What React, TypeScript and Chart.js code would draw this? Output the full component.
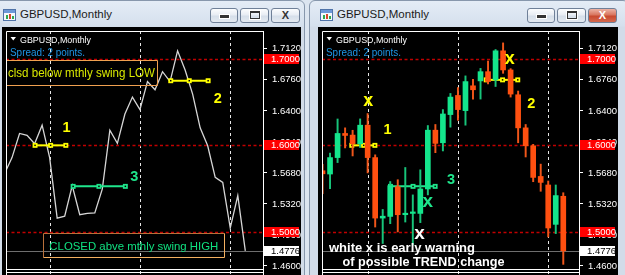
import React, { useEffect, useRef } from "react";
import { Chart, registerables } from "chart.js";

Chart.register(...registerables);

// ---------------- data: GBPUSD monthly bars ----------------
const MONTHS = [
  "2012.07", "2012.08", "2012.09", "2012.10", "2012.11", "2012.12",
  "2013.01", "2013.02", "2013.03", "2013.04", "2013.05", "2013.06",
  "2013.07", "2013.08", "2013.09", "2013.10", "2013.11", "2013.12",
  "2014.01", "2014.02", "2014.03", "2014.04", "2014.05", "2014.06",
  "2014.07", "2014.08", "2014.09", "2014.10", "2014.11", "2014.12",
  "2015.01", "2015.02", "2015.03",
];
const JAN_2015 = MONTHS.indexOf("2015.01");
const BAR_INDEX = MONTHS.map((_, i) => i - JAN_2015);

const OPEN = [
  1.5705, 1.5667, 1.5858, 1.6138, 1.6119, 1.6019,
  1.6234, 1.5858, 1.5156, 1.5175, 1.552, 1.5195,
  1.521, 1.521, 1.5494, 1.6176, 1.603, 1.6357,
  1.6579, 1.6403, 1.6691, 1.6748, 1.6855, 1.676,
  1.7097, 1.6875, 1.6587, 1.6203, 1.5995, 1.5639,
  1.554, 1.5083, 1.5409,
];
const HIGH = [
  1.578, 1.591, 1.6306, 1.6203, 1.6175, 1.6307,
  1.6369, 1.589, 1.5256, 1.558, 1.5601, 1.5743,
  1.5425, 1.5716, 1.623, 1.6242, 1.6415, 1.6602,
  1.6671, 1.6806, 1.6767, 1.6893, 1.6978, 1.7112,
  1.7189, 1.689, 1.663, 1.6242, 1.6012, 1.5782,
  1.5586, 1.554, 1.545,
];
const LOW = [
  1.544, 1.5497, 1.58, 1.597, 1.5877, 1.5975,
  1.568, 1.5052, 1.4861, 1.5091, 1.4995, 1.511,
  1.4842, 1.5103, 1.5425, 1.5915, 1.5935, 1.6211,
  1.6291, 1.6234, 1.6537, 1.6537, 1.6713, 1.6683,
  1.6836, 1.656, 1.603, 1.5865, 1.5578, 1.5467,
  1.4937, 1.4976, 1.4619,
];
const CLOSE = [
  1.567, 1.5858, 1.6138, 1.6115, 1.6019, 1.6234,
  1.5858, 1.5156, 1.5178, 1.5532, 1.5195, 1.521,
  1.5215, 1.5494, 1.6176, 1.6023, 1.6364, 1.656,
  1.6415, 1.674, 1.6645, 1.6855, 1.674, 1.7097,
  1.6875, 1.6595, 1.6203, 1.5995, 1.5628, 1.557,
  1.5041, 1.5417, 1.4776,
];

const PRICE_TICKS = [1.46, 1.496, 1.532, 1.568, 1.604, 1.64, 1.676, 1.712];
const RED_LEVELS = [1.7, 1.6, 1.5];
const BID = 1.4776;
const YEAR_SEPARATORS = [-24, -12, 0];
const Y_MIN = 1.4565;
const Y_MAX = 1.7327;
const LEFT_X_RANGE = [-29.8, 4.35];
const RIGHT_X_RANGE = [-30.07, 4.09];

// drawn objects (bar index, price)
const L_SWING1_X = [-25.94, -23.87, -21.85];
const L_SWING1_Y = 1.6;
const L_SWING2_X = [-7.91, -5.45, -2.94];
const L_SWING2_Y = 1.675;
const L_SWING3_X = [-20.88, -17.45, -13.94];
const L_SWING3_Y = 1.5524;
const R_SWING1_X = [-26.11, -24.53, -23.04];
const R_SWING1_Y = 1.6;
const R_SWING2_X = [-8.24, -6.07, -4.05];
const R_SWING2_Y = 1.676;
const R_SWING3_X = [-20.97, -17.97, -15.03];
const R_SWING3_Y = 1.5524;

// ---------------- styles ----------------
const FONT = "'Liberation Sans', Arial, sans-serif";
const YELLOW = "#FFFF00";
const MINT = "#1FE68C";
const BULL = "#14E58C";
const BEAR = "#FF5010";
const BULL_WICK = "#17C47A";
const BEAR_WICK = "#F0561A";

type Note = {
  x: number; y: number; text: string; color: string; size: number;
  bold?: boolean; align?: CanvasTextAlign; fit?: number; glyph?: boolean;
};
type Box = { x1: number; x2: number; y1: number; y2: number; dark: string; light: string };

const LEFT_NOTES: Note[] = [
  { x: -21.76, y: 1.6211, text: "1", color: YELLOW, size: 14.5, bold: true },
  { x: -1.67, y: 1.6548, text: "2", color: YELLOW, size: 14.5, bold: true },
  { x: -12.75, y: 1.5647, text: "3", color: MINT, size: 14.5, bold: true },
  { x: -29.54, y: 1.685, text: "clsd below mthly swing LOW", color: "#D8E800", size: 12.5, align: "left", fit: 147 },
  { x: -24.04, y: 1.483, text: "CLOSED abve mthly swing HIGH", color: "#10E080", size: 11.5, align: "left", fit: 169 },
];
const LEFT_BOXES: Box[] = [
  { x1: -29.8, x2: -9.8, y1: 1.699, y2: 1.6702, dark: "#F0A050", light: "#F0A050" },
  { x1: -24.83, x2: -0.88, y1: 1.4983, y2: 1.47, dark: "#B8703A", light: "#F4B060" },
];
const RIGHT_NOTES: Note[] = [
  { x: -21.36, y: 1.6188, text: "1", color: YELLOW, size: 14.5, bold: true },
  { x: -2.24, y: 1.6499, text: "2", color: YELLOW, size: 14.5, bold: true },
  { x: -12.92, y: 1.5613, text: "3", color: MINT, size: 14.5, bold: true },
  { x: -23.91, y: 1.651, text: "x", color: YELLOW, size: 18, bold: true, glyph: true },
  { x: -5.1, y: 1.6997, text: "x", color: YELLOW, size: 18, bold: true, glyph: true },
  { x: -16.0, y: 1.534, text: "x", color: MINT, size: 19, bold: true, glyph: true },
  { x: -17.1, y: 1.4976, text: "x", color: "#FFFFFF", size: 19, bold: true, glyph: true },
  { x: -29.14, y: 1.4822, text: "white x is early warning", color: "#FFFFFF", size: 13, bold: true, align: "left", fit: 147 },
  { x: -27.34, y: 1.4657, text: "of possible TREND change", color: "#FFFFFF", size: 13, bold: true, align: "left", fit: 162 },
];

function makeOverlay(notes: Note[], boxes: Box[]) {
  return {
    id: "mt4Overlay",
    beforeDraw(chart: any) {
      const { ctx, width, height } = chart;
      ctx.save();
      ctx.fillStyle = "#000";
      ctx.fillRect(0, 0, width, height);
      ctx.restore();
    },
    beforeDatasetsDraw(chart: any) {
      const { ctx, chartArea: a, scales } = chart;
      const xs = scales.x, ys = scales.y;
      ctx.save();
      ctx.lineWidth = 1;
      ctx.strokeStyle = "#E6E6E6";
      ctx.setLineDash([3, 3]);
      for (const s of YEAR_SEPARATORS) {
        const px = Math.round(xs.getPixelForValue(s)) + 0.5;
        ctx.beginPath();
        ctx.moveTo(px, a.top);
        ctx.lineTo(px, chart.height);
        ctx.stroke();
      }
      ctx.strokeStyle = "#C00000";
      ctx.lineWidth = 1.6;
      ctx.setLineDash([3, 2.5]);
      for (const v of RED_LEVELS) {
        const py = Math.round(ys.getPixelForValue(v)) + 0.5;
        ctx.beginPath();
        ctx.moveTo(a.left, py);
        ctx.lineTo(a.right, py);
        ctx.stroke();
      }
      ctx.setLineDash([]);
      ctx.lineWidth = 1;
      ctx.strokeStyle = "#6E6E6E";
      const by = Math.round(ys.getPixelForValue(BID)) + 0.5;
      ctx.beginPath();
      ctx.moveTo(a.left, by);
      ctx.lineTo(a.right, by);
      ctx.stroke();
      ctx.restore();
    },
    afterDatasetDraw(chart: any, args: any) {
      const ds = chart.data.datasets[args.index];
      if (!ds || ds.label !== "swing") return;
      const ctx = chart.ctx;
      ctx.save();
      ctx.fillStyle = "#000";
      for (const p of args.meta.data) ctx.fillRect(p.x - 0.75, p.y - 0.75, 1.5, 1.5);
      ctx.restore();
    },
    afterDatasetsDraw(chart: any) {
      const { ctx, scales } = chart;
      const xs = scales.x, ys = scales.y;
      ctx.save();
      ctx.lineWidth = 1;
      for (const b of boxes) {
        const l = Math.round(xs.getPixelForValue(b.x1)) + 0.5;
        const r = Math.round(xs.getPixelForValue(b.x2)) + 0.5;
        const t = Math.round(ys.getPixelForValue(b.y1)) + 0.5;
        const btm = Math.round(ys.getPixelForValue(b.y2)) + 0.5;
        ctx.strokeStyle = b.dark;
        ctx.beginPath();
        ctx.moveTo(l, btm); ctx.lineTo(l, t); ctx.lineTo(r, t);
        ctx.stroke();
        ctx.strokeStyle = b.light;
        ctx.beginPath();
        ctx.moveTo(r, t); ctx.lineTo(r, btm); ctx.lineTo(l, btm);
        ctx.stroke();
      }
      for (const n of notes) {
        const px = xs.getPixelForValue(n.x);
        const py = ys.getPixelForValue(n.y);
        ctx.font = `${n.bold ? "bold " : ""}${n.size}px ${FONT}`;
        ctx.fillStyle = n.color;
        ctx.textAlign = n.align ?? "center";
        ctx.textBaseline = "alphabetic";
        const dy = n.size * (n.glyph ? 0.26 : 0.36);
        if (n.fit) ctx.fillText(n.text, px, py + dy, n.fit);
        else ctx.fillText(n.text, px, py + dy);
      }
      ctx.restore();
    },
    afterDraw(chart: any) {
      const { ctx, chartArea: a, scales } = chart;
      const ys = scales.y;
      ctx.save();
      // frame lines
      ctx.strokeStyle = "#FFFFFF";
      ctx.lineWidth = 1;
      ctx.beginPath();
      ctx.moveTo(a.left + 0.5, chart.height);
      ctx.lineTo(a.left + 0.5, a.top + 0.5);
      ctx.lineTo(a.right, a.top + 0.5);
      ctx.moveTo(a.left, a.bottom + 0.5);
      ctx.lineTo(a.right, a.bottom + 0.5);
      ctx.moveTo(a.left, a.bottom + 3.5);
      ctx.lineTo(a.right, a.bottom + 3.5);
      ctx.moveTo(Math.round(a.right) + 0.5, a.bottom);
      ctx.lineTo(Math.round(a.right) + 0.5, chart.height);
      ctx.stroke();
      // price labels
      const label = (v: number, bg: string, fg: string) => {
        const py = Math.round(ys.getPixelForValue(v));
        ctx.fillStyle = bg;
        ctx.fillRect(a.right + 1, py - 5, 35, 10);
        ctx.fillStyle = fg;
        ctx.font = `9.5px ${FONT}`;
        ctx.textAlign = "left";
        ctx.textBaseline = "middle";
        ctx.fillText(v.toFixed(4), a.right + 8, py + 0.5);
      };
      for (const v of RED_LEVELS) label(v, "#FF0000", "#FFFFFF");
      label(BID, "#FFFFFF", "#000000");
      // header
      const l = a.left, t = a.top;
      ctx.fillStyle = "#FFFFFF";
      ctx.beginPath();
      ctx.moveTo(l + 4.5, t + 6);
      ctx.lineTo(l + 10, t + 6);
      ctx.lineTo(l + 7.25, t + 9.5);
      ctx.closePath();
      ctx.fill();
      ctx.textBaseline = "alphabetic";
      ctx.textAlign = "left";
      ctx.font = `9.5px ${FONT}`;
      ctx.fillText("GBPUSD,Monthly", l + 14, t + 11.7, 71);
      ctx.fillStyle = "#1E96E6";
      ctx.font = `10px ${FONT}`;
      ctx.fillText("Spread: 2 points.", l + 4, t + 24.5, 75);
      ctx.restore();
    },
  };
}

function swingDataset(xs: number[], y: number, color: string, order: number) {
  return {
    type: "line",
    label: "swing",
    data: xs.map((x) => ({ x, y })),
    borderColor: color,
    backgroundColor: color,
    borderWidth: 2,
    pointStyle: "rect",
    pointRadius: 3.5,
    pointBackgroundColor: color,
    pointBorderColor: color,
    pointBorderWidth: 0,
    tension: 0,
    order,
  };
}

function baseOptions(xRange: number[], axisWidth: number) {
  return {
    animation: false,
    responsive: false,
    maintainAspectRatio: false,
    devicePixelRatio: 1,
    events: [],
    layout: { padding: { left: 2, top: 2, right: 0, bottom: 6 } },
    plugins: { legend: { display: false }, tooltip: { enabled: false } },
    scales: {
      x: { type: "linear", min: xRange[0], max: xRange[1], display: false, offset: false },
      y: {
        type: "linear",
        position: "right",
        min: Y_MIN,
        max: Y_MAX,
        beginAtZero: false,
        afterBuildTicks: (s: any) => {
          s.ticks = PRICE_TICKS.map((value) => ({ value }));
        },
        afterFit: (s: any) => {
          s.width = axisWidth;
          s.paddingTop = 0;
          s.paddingBottom = 0;
        },
        ticks: {
          color: "#FFFFFF",
          font: { family: FONT, size: 9.5 },
          padding: 5,
          autoSkip: false,
          callback: (v: any) => Number(v).toFixed(4),
        },
        grid: { drawOnChartArea: false, drawTicks: true, tickLength: 4, color: "#FFFFFF", lineWidth: 1 },
        border: { display: true, color: "#FFFFFF", width: 1 },
      },
    },
  };
}

function buildLeft() {
  return {
    type: "line",
    data: {
      datasets: [
        swingDataset(L_SWING1_X, L_SWING1_Y, YELLOW, 0),
        swingDataset(L_SWING2_X, L_SWING2_Y, YELLOW, 0),
        swingDataset(L_SWING3_X, L_SWING3_Y, MINT, 0),
        {
          type: "line",
          label: "close",
          data: BAR_INDEX.map((x, i) => ({ x, y: CLOSE[i] })),
          borderColor: "#D6D6D6",
          borderWidth: 1.3,
          pointRadius: 0,
          tension: 0,
          order: 1,
        },
      ],
    },
    options: baseOptions(LEFT_X_RANGE, 38),
    plugins: [makeOverlay(LEFT_NOTES, LEFT_BOXES)],
  };
}

function buildRight() {
  const bull = BAR_INDEX.map((_, i) => CLOSE[i] >= OPEN[i]);
  return {
    type: "bar",
    data: {
      datasets: [
        {
          type: "bar",
          label: "body",
          data: BAR_INDEX.map((x, i) => ({ x, y: [OPEN[i], CLOSE[i]] })),
          backgroundColor: bull.map((b) => (b ? BULL : BEAR)),
          borderWidth: 0,
          barThickness: 5,
          minBarLength: 1.5,
          grouped: false,
          order: 0,
        },
        {
          type: "bar",
          label: "wick",
          data: BAR_INDEX.map((x, i) => ({ x, y: [LOW[i], HIGH[i]] })),
          backgroundColor: bull.map((b) => (b ? BULL_WICK : BEAR_WICK)),
          borderWidth: 0,
          barThickness: 1.3,
          grouped: false,
          order: 1,
        },
        swingDataset(R_SWING1_X, R_SWING1_Y, YELLOW, 3),
        swingDataset(R_SWING2_X, R_SWING2_Y, YELLOW, 3),
        swingDataset(R_SWING3_X, R_SWING3_Y, MINT, 3),
      ],
    },
    options: baseOptions(RIGHT_X_RANGE, 39),
    plugins: [makeOverlay(RIGHT_NOTES, [])],
  };
}

// ---------------- window chrome ----------------
function Icon() {
  return (
    <div style={{ position: "absolute", left: 10, top: 8, width: 13, height: 12, boxSizing: "border-box", border: "1px solid #4F73A8", background: "#F4F8FD" }}>
      <div style={{ position: "absolute", left: 0, top: 0, width: 11, height: 3, background: "#6C98D8" }} />
      <div style={{ position: "absolute", left: 2, top: 5, width: 2, height: 4, background: "#2FA84F" }} />
      <div style={{ position: "absolute", left: 5, top: 4, width: 2, height: 5, background: "#D9482B" }} />
      <div style={{ position: "absolute", left: 8, top: 6, width: 2, height: 3, background: "#2FA84F" }} />
    </div>
  );
}

function CaptionButton({ left, width, kind, red }: { left: number; width: number; kind: string; red?: boolean }) {
  const bg = red
    ? "linear-gradient(#EDB3A5 0%, #D8765F 45%, #C94A2F 55%, #D3694F 100%)"
    : "linear-gradient(#FCFDFE 0%, #E8EDF4 45%, #D6DFEA 55%, #E4EAF1 100%)";
  const inner = width - 2;
  return (
    <div style={{ position: "absolute", left, top: 7, width, height: 15, boxSizing: "border-box", border: "1px solid #6F8098", borderRadius: 3, background: bg }}>
      {kind === "min" && (
        <div style={{ position: "absolute", left: (inner - 9) / 2, top: 6, width: 9, height: 3, background: "#333", boxShadow: "0 0 0 1px #fff" }} />
      )}
      {kind === "max" && (
        <div style={{ position: "absolute", left: (inner - 10) / 2, top: 2, width: 10, height: 8, boxSizing: "border-box", border: "1px solid #333", borderTop: "2px solid #333", boxShadow: "0 0 0 1px #fff" }} />
      )}
      {kind === "close" && (
        <div style={{ position: "absolute", left: 0, top: 0, width: inner, height: 13, textAlign: "center", font: `bold 11px ${FONT}`, lineHeight: "13px", color: red ? "#FFFFFF" : "#333333" }}>
          X
        </div>
      )}
    </div>
  );
}

function MdiWindow({ left, width, active, children }: { left: number; width: number; active: boolean; children: any }) {
  return (
    <div
      style={{
        position: "absolute", left, top: 0, width, height: 290, boxSizing: "border-box",
        border: "1px solid #8797AC", borderRadius: "6px 6px 0 0", overflow: "hidden",
        background: "linear-gradient(to bottom, #E4ECF6 0px, #D5E0ED 25px, #D2DCE9 26px, #D2DCE9 100%)",
      }}
    >
      <Icon />
      <div style={{ position: "absolute", left: 27, top: 7, font: `11.5px ${FONT}`, lineHeight: "13px", color: "#1B1B1B", whiteSpace: "nowrap" }}>
        GBPUSD,Monthly
      </div>
      <CaptionButton left={217} width={28} kind="min" />
      <CaptionButton left={247} width={29} kind="max" />
      <CaptionButton left={278} width={29} kind="close" red={active} />
      {children}
    </div>
  );
}

export default function App() {
  const leftRef = useRef<HTMLCanvasElement | null>(null);
  const rightRef = useRef<HTMLCanvasElement | null>(null);

  useEffect(() => {
    const charts: Chart[] = [];
    if (leftRef.current) charts.push(new Chart(leftRef.current, buildLeft() as any));
    if (rightRef.current) charts.push(new Chart(rightRef.current, buildRight() as any));
    return () => charts.forEach((c) => c.destroy());
  }, []);

  return (
    <div style={{ position: "fixed", left: 0, top: 0, width: 625, height: 275, overflow: "hidden", background: "#DCE5F0" }}>
      <MdiWindow left={-8} width={313} active={false}>
        <canvas ref={leftRef} width={299} height={248} style={{ position: "absolute", left: 9, top: 26, width: 299, height: 248, display: "block" }} />
      </MdiWindow>
      <MdiWindow left={309} width={320} active={true}>
        <canvas ref={rightRef} width={300} height={248} style={{ position: "absolute", left: 8, top: 26, width: 300, height: 248, display: "block" }} />
      </MdiWindow>
    </div>
  );
}
